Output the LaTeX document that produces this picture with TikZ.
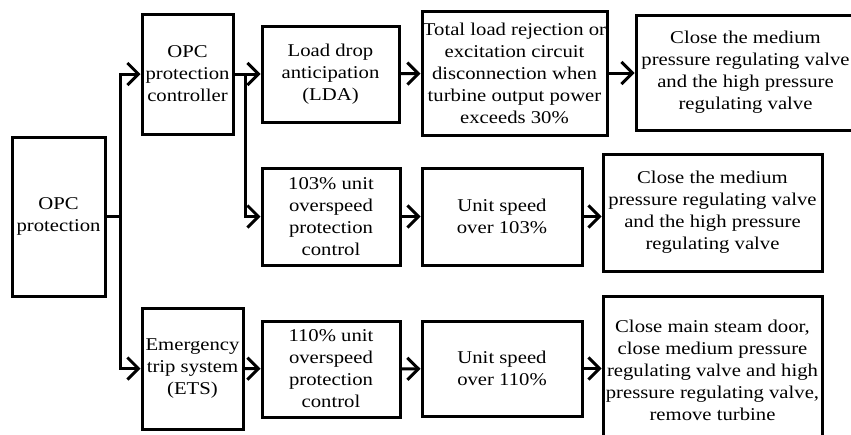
\documentclass[tikz,border=0pt]{standalone}
\usepackage{fontspec}
\setmainfont[FakeStretch=1.15]{Liberation Serif}
\usetikzlibrary{arrows.meta,positioning}
\tikzset{box/.style={draw=black,line width=3pt,align=center,inner sep=0pt,fill=white,font=\fontsize{18}{22}\selectfont},arr/.style={-{Straight Barb[length=11pt,width=22pt]},line width=3pt,black}}

\begin{document}
\begin{tikzpicture}[x=1pt,y=-1pt]
\useasboundingbox (0,0) rectangle (851,434);
\clip (0,0) rectangle (851,434);
\node[box,minimum width=93pt,minimum height=159pt] (opc) at (58.5,216.5) {OPC\\protection};
\node[box,minimum width=91pt,minimum height=120pt] (ctrl) at (187.5,74) {OPC\\protection\\controller};
\node[box,minimum width=101pt,minimum height=121pt] (ets) at (192.5,368.5) {Emergency\\trip system\\(ETS)};
\node[box,minimum width=137pt,minimum height=96pt] (lda) at (330.5,74) {Load drop\\anticipation\\(LDA)};
\node[box,minimum width=185pt,minimum height=124pt] (rejection) at (514.5,73) {Total load rejection or\\excitation circuit\\disconnection when\\turbine output power\\exceeds 30\%};
\node[box,minimum width=219pt,minimum height=115pt] (close1) at (745.5,72.5) {Close the medium\\pressure regulating valve\\and the high pressure\\regulating valve};
\node[box,minimum width=138pt,minimum height=97pt] (ovs103) at (331,216.5) {103\% unit\\overspeed\\protection\\control};
\node[box,minimum width=160pt,minimum height=97pt] (speed103) at (502,216.5) {Unit speed\\over 103\%};
\node[box,minimum width=219pt,minimum height=117pt] (close2) at (712.5,212.5) {Close the medium\\pressure regulating valve\\and the high pressure\\regulating valve};
\node[box,minimum width=138pt,minimum height=96pt] (ovs110) at (331,369) {110\% unit\\overspeed\\protection\\control};
\node[box,minimum width=160pt,minimum height=95pt] (speed110) at (502,368.5) {Unit speed\\over 110\%};
\node[box,minimum width=219pt,minimum height=148pt] (close3) at (712.5,370) {Close main steam door,\\close medium pressure\\regulating valve and high\\pressure regulating valve,\\remove turbine};
% branch points
\coordinate (split) at (120,216.5);
\coordinate (split2) at (245,74);
\draw[line width=3pt] (opc.east) -- (split);
\draw[arr] (split) |- (ctrl.west); \draw[arr] (split) |- (ets.west);
\draw[arr] (ctrl) -- (lda); \draw[arr] (split2) |- (ovs103.west);
\draw[arr] (lda) -- (rejection); \draw[arr] (rejection.east) -- (rejection.east -| close1.west);
\draw[arr] (ovs103) -- (speed103); \draw[arr] (speed103.east) -- (speed103.east -| close2.west);
\draw[arr] (ets) -- (ovs110); \draw[arr] (ovs110) -- (speed110); \draw[arr] (speed110.east) -- (speed110.east -| close3.west);
\end{tikzpicture}
\end{document}
